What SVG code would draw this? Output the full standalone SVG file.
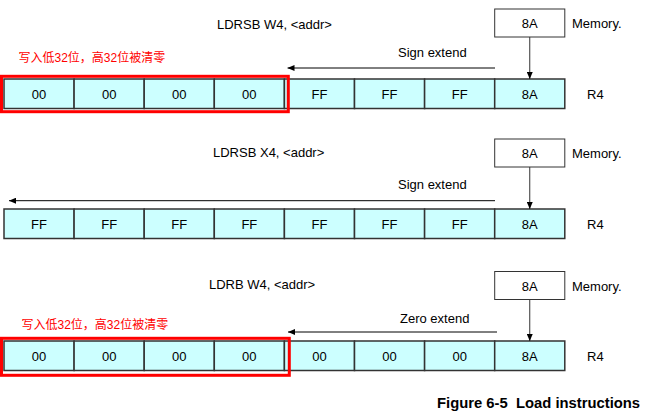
<svg xmlns="http://www.w3.org/2000/svg" width="648" height="416" viewBox="0 0 648 416">
<defs>
<style>
.cell{fill:#CCFFFF;stroke:#333;stroke-width:1.5}
.mem{fill:#fff;stroke:#333;stroke-width:1}
.t{font-family:"Liberation Sans",Arial,sans-serif;font-size:13px;fill:#000}
.c{text-anchor:middle}
.red{font-family:"Liberation Sans","Noto Sans CJK SC",sans-serif;font-size:12px;fill:#ff0000}
.hl{fill:none;stroke:#ff0000;stroke-width:3}
.ln{stroke:#000;stroke-width:1;fill:none}
.dn{stroke:#333;stroke-width:1;fill:none}
.cap{font-family:"Liberation Sans",Arial,sans-serif;font-size:14.8px;font-weight:bold;fill:#000;white-space:pre}
</style>
<marker id="ah" viewBox="0 0 7 6" refX="7" refY="3" markerWidth="7" markerHeight="6" markerUnits="userSpaceOnUse" orient="auto">
<path d="M0,0 L7,3 L0,6 z" fill="#000"/>
</marker>
</defs>

<!-- Row 1 -->
<g id="row1-title"><text class="t" x="217" y="29">LDRSB W4, &lt;addr&gt;</text></g>
<g id="row1-mem"><rect class="mem" x="494.7" y="9" width="70.1" height="28"/><text class="t c" x="529.75" y="28">8A</text><text class="t" x="572" y="28">Memory.</text></g>
<g id="row1-reg">
<rect class="cell" x="4" y="79" width="70.1" height="29.5"/><text class="t c" x="39.05" y="98.5">00</text>
<rect class="cell" x="74.1" y="79" width="70.1" height="29.5"/><text class="t c" x="109.15" y="98.5">00</text>
<rect class="cell" x="144.2" y="79" width="70.1" height="29.5"/><text class="t c" x="179.25" y="98.5">00</text>
<rect class="cell" x="214.3" y="79" width="70.1" height="29.5"/><text class="t c" x="249.35" y="98.5">00</text>
<rect class="cell" x="284.4" y="79" width="70.1" height="29.5"/><text class="t c" x="319.45" y="98.5">FF</text>
<rect class="cell" x="354.5" y="79" width="70.1" height="29.5"/><text class="t c" x="389.55" y="98.5">FF</text>
<rect class="cell" x="424.6" y="79" width="70.1" height="29.5"/><text class="t c" x="459.65" y="98.5">FF</text>
<rect class="cell" x="494.7" y="79" width="70.1" height="29.5"/><text class="t c" x="529.75" y="98.5">8A</text>
<text class="t" x="587" y="98.5">R4</text>
</g>
<g id="row1-note"><text class="red" x="18.5" y="62">写入低32位，高32位被清零</text><rect class="hl" x="1.5" y="76.3" width="286.8" height="35.4"/></g>
<g id="row1-ext"><text class="t" x="398" y="57">Sign extend</text></g>

<!-- Row 2 -->
<g id="row2-title"><text class="t" x="213" y="157">LDRSB X4, &lt;addr&gt;</text></g>
<g id="row2-mem"><rect class="mem" x="494.7" y="139" width="70.1" height="28"/><text class="t c" x="529.75" y="158">8A</text><text class="t" x="572" y="158">Memory.</text></g>
<g id="row2-reg">
<rect class="cell" x="4" y="209" width="70.1" height="29.5"/><text class="t c" x="39.05" y="228.5">FF</text>
<rect class="cell" x="74.1" y="209" width="70.1" height="29.5"/><text class="t c" x="109.15" y="228.5">FF</text>
<rect class="cell" x="144.2" y="209" width="70.1" height="29.5"/><text class="t c" x="179.25" y="228.5">FF</text>
<rect class="cell" x="214.3" y="209" width="70.1" height="29.5"/><text class="t c" x="249.35" y="228.5">FF</text>
<rect class="cell" x="284.4" y="209" width="70.1" height="29.5"/><text class="t c" x="319.45" y="228.5">FF</text>
<rect class="cell" x="354.5" y="209" width="70.1" height="29.5"/><text class="t c" x="389.55" y="228.5">FF</text>
<rect class="cell" x="424.6" y="209" width="70.1" height="29.5"/><text class="t c" x="459.65" y="228.5">FF</text>
<rect class="cell" x="494.7" y="209" width="70.1" height="29.5"/><text class="t c" x="529.75" y="228.5">8A</text>
<text class="t" x="587" y="228.5">R4</text>
</g>
<g id="row2-ext"><text class="t" x="398" y="189">Sign extend</text></g>

<!-- Row 3 -->
<g id="row3-title"><text class="t" x="209" y="289">LDRB W4, &lt;addr&gt;</text></g>
<g id="row3-mem"><rect class="mem" x="494.7" y="271.5" width="70.1" height="28"/><text class="t c" x="529.75" y="290.5">8A</text><text class="t" x="572" y="290.5">Memory.</text></g>
<g id="row3-reg">
<rect class="cell" x="4" y="341" width="70.1" height="29.5"/><text class="t c" x="39.05" y="360.5">00</text>
<rect class="cell" x="74.1" y="341" width="70.1" height="29.5"/><text class="t c" x="109.15" y="360.5">00</text>
<rect class="cell" x="144.2" y="341" width="70.1" height="29.5"/><text class="t c" x="179.25" y="360.5">00</text>
<rect class="cell" x="214.3" y="341" width="70.1" height="29.5"/><text class="t c" x="249.35" y="360.5">00</text>
<rect class="cell" x="284.4" y="341" width="70.1" height="29.5"/><text class="t c" x="319.45" y="360.5">00</text>
<rect class="cell" x="354.5" y="341" width="70.1" height="29.5"/><text class="t c" x="389.55" y="360.5">00</text>
<rect class="cell" x="424.6" y="341" width="70.1" height="29.5"/><text class="t c" x="459.65" y="360.5">00</text>
<rect class="cell" x="494.7" y="341" width="70.1" height="29.5"/><text class="t c" x="529.75" y="360.5">8A</text>
<text class="t" x="587" y="360.5">R4</text>
</g>
<g id="row3-note"><text class="red" x="21.5" y="329">写入低32位，高32位被清零</text><rect class="hl" x="1.5" y="338.3" width="287.8" height="37"/></g>
<g id="row3-ext"><text class="t" x="400" y="323">Zero extend</text></g>

<g id="connectors">
<line class="ln" x1="495" y1="68" x2="287.5" y2="68" marker-end="url(#ah)"/>
<line class="dn" x1="529.75" y1="37" x2="529.75" y2="79" marker-end="url(#ah)"/>
<line class="ln" x1="495" y1="200.7" x2="9" y2="200.7" marker-end="url(#ah)"/>
<line class="dn" x1="529.75" y1="167" x2="529.75" y2="209" marker-end="url(#ah)"/>
<line class="ln" x1="497" y1="332" x2="288" y2="332" marker-end="url(#ah)"/>
<line class="dn" x1="529.75" y1="299.5" x2="529.75" y2="341" marker-end="url(#ah)"/>
</g>

<g id="caption"><text class="cap" x="437" y="408" xml:space="preserve">Figure 6-5  Load instructions</text></g>
</svg>
